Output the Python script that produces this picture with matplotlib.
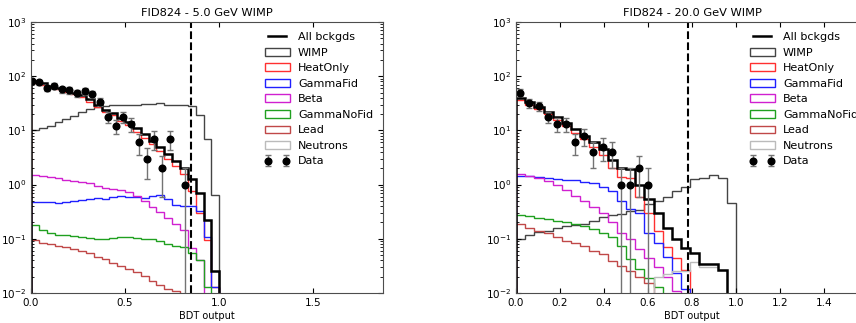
import numpy as np
import matplotlib.pyplot as plt
from matplotlib.patches import Rectangle
from matplotlib.lines import Line2D

# bin edges of the BDT output histograms
edges = np.linspace(0, 1, 25)

# ---- 5 GeV WIMP ----
bkg_5 = [80, 74, 67, 61, 55, 50, 45, 38, 30, 24, 21, 17, 14, 11, 8.5, 6.5, 5.0, 3.6, 2.7, 2.0, 1.25, 0.7, 0.22, 0.026]
wimp_5 = [10, 11, 12, 14, 16, 18.5, 21.5, 24.5, 27, 28.5, 29, 29.5, 30, 30, 30.5, 31, 31.5, 30, 29, 30, 28.5, 19, 7, 0.65]
heat_5 = [76, 70, 63, 57, 51, 46, 41, 34, 27, 22, 19, 15, 12.5, 9.5, 7.2, 5.5, 4.2, 3.0, 2.2, 1.6, 0.75, 0.3, 0.095, 0.013]
gfid_5 = [0.48, 0.48, 0.47, 0.46, 0.47, 0.50, 0.53, 0.55, 0.57, 0.55, 0.60, 0.62, 0.60, 0.58, 0.57, 0.62, 0.65, 0.55, 0.42, 0.40, 0.40, 0.32, 0.11, 0.013]
beta_5 = [1.5, 1.42, 1.38, 1.3, 1.22, 1.15, 1.1, 1.05, 0.95, 0.88, 0.82, 0.78, 0.74, 0.62, 0.5, 0.39, 0.31, 0.24, 0.19, 0.145, 0.068, 0.04, 0, 0]
gnofid_5 = [0.18, 0.145, 0.13, 0.12, 0.12, 0.115, 0.11, 0.105, 0.1, 0.1, 0.105, 0.11, 0.11, 0.105, 0.1, 0.1, 0.09, 0.08, 0.075, 0.07, 0.055, 0.04, 0.013, 0]
lead_5 = [0.095, 0.085, 0.08, 0.075, 0.07, 0.065, 0.06, 0.055, 0.047, 0.042, 0.036, 0.032, 0.028, 0.024, 0.021, 0.017, 0.014, 0.012, 0.011, 0, 0, 0, 0, 0]
neut_5 = [0] * 24
data_x_5 = [0.003, 0.043, 0.083, 0.124, 0.164, 0.204, 0.245, 0.285, 0.326, 0.366, 0.408, 0.449, 0.491, 0.532, 0.573, 0.614, 0.655, 0.696, 0.738, 0.82]
data_5 = [80, 78, 60, 66, 57, 55, 49, 53, 47, 34, 18, 12, 18, 13, 6, 3, 7, 2, 7, 1]

# ---- 20 GeV WIMP ----
bkg_20 = [40, 33, 27, 22, 17.5, 13.5, 10.5, 8.0, 6.0, 4.5, 2.9, 2.0, 1.9, 1.0, 0.55, 0.3, 0.16, 0.1, 0.069, 0.055, 0.034, 0.034, 0.027, 0]
wimp_20 = [0.1, 0.12, 0.135, 0.14, 0.155, 0.17, 0.18, 0.185, 0.21, 0.25, 0.28, 0.29, 0.32, 0.34, 0.44, 0.5, 0.6, 0.75, 0.9, 1.25, 1.3, 1.5, 1.3, 0.46]
heat_20 = [37, 30, 25, 20, 15.5, 12, 9, 6.8, 5.0, 3.5, 2.0, 1.4, 1.3, 0.6, 0.3, 0.14, 0.07, 0.045, 0.027, 0, 0, 0, 0, 0]
gfid_20 = [1.45, 1.42, 1.38, 1.33, 1.28, 1.23, 1.2, 1.12, 1.05, 0.92, 0.75, 0.5, 0.35, 0.3, 0.13, 0.085, 0.047, 0.023, 0.012, 0, 0, 0, 0, 0]
beta_20 = [1.55, 1.42, 1.3, 1.15, 1.0, 0.8, 0.62, 0.5, 0.38, 0.3, 0.2, 0.13, 0.1, 0.065, 0.045, 0.03, 0.02, 0.011, 0, 0, 0, 0, 0, 0]
gnofid_20 = [0.28, 0.26, 0.245, 0.23, 0.21, 0.2, 0.185, 0.175, 0.15, 0.13, 0.11, 0.075, 0.043, 0.028, 0.019, 0.013, 0, 0, 0, 0, 0, 0, 0, 0]
lead_20 = [0.185, 0.16, 0.14, 0.126, 0.11, 0.092, 0.083, 0.074, 0.06, 0.052, 0.039, 0.032, 0.026, 0.02, 0.015, 0, 0, 0, 0, 0, 0, 0, 0, 0]
neut_20 = [0, 0, 0, 0, 0, 0, 0, 0, 0, 0, 0, 0, 0, 0, 0, 0.02, 0.022, 0.025, 0.025, 0.038, 0.03, 0.03, 0.027, 0]
data_x_20 = [0.02, 0.061, 0.103, 0.144, 0.185, 0.227, 0.269, 0.31, 0.352, 0.394, 0.436, 0.477, 0.519, 0.56, 0.602]
data_20 = [50, 32, 28, 18, 13, 13, 6, 8, 4, 5, 4, 1, 1, 2, 1]

names = ['WIMP', 'HeatOnly', 'GammaFid', 'Beta', 'GammaNoFid', 'Lead', 'Neutrons']
colors = ['#444444', '#ff3030', '#2020ff', '#d020d0', '#20a020', '#c04848', '#bbbbbb']

panels = [
    ('FID824 - 5.0 GeV WIMP', bkg_5, [wimp_5, heat_5, gfid_5, beta_5, gnofid_5, lead_5, neut_5],
     data_x_5, data_5, 0.85, 1.87, [0.0, 0.5, 1.0, 1.5]),
    ('FID824 - 20.0 GeV WIMP', bkg_20, [wimp_20, heat_20, gfid_20, beta_20, gnofid_20, lead_20, neut_20],
     data_x_20, data_20, 0.78, 1.6, [0.0, 0.2, 0.4, 0.6, 0.8, 1.0, 1.2, 1.4]),
]

fig = plt.figure(figsize=(8.56, 3.23), dpi=100)
lefts = [31 / 856, 516 / 856]

for left, (title, bkg, comps, dx, dy, cut, xmax, xt) in zip(lefts, panels):
    ax = fig.add_axes([left, 30 / 323, 352 / 856, 271 / 323])
    ax.set_yscale('log')
    handles = []
    for vals, name, col in zip(comps, names, colors):
        ax.stairs(vals, edges, color=col, lw=1.0)
        handles.append(Rectangle((0, 0), 1, 1, facecolor='white', edgecolor=col, lw=1.0, label=name))
    ax.stairs(bkg, edges, color='black', lw=1.8)
    h_bkg = Line2D([], [], color='black', lw=1.8, label='All bckgds')
    dy = np.array(dy, dtype=float)
    err = np.sqrt(dy)
    eb = ax.errorbar(dx, dy, yerr=[np.minimum(err, dy * 0.99999), err], fmt='o', color='black',
                     ecolor='0.45', elinewidth=1.0, capsize=2, markersize=4.8, label='Data')
    ax.axvline(cut, color='black', ls='--', lw=1.5)
    ax.set_xlim(0, xmax)
    ax.set_ylim(1e-2, 1e3)
    ax.set_xticks(xt)
    ax.set_xticklabels(['%.1f' % t for t in xt], fontsize=7.5)
    ax.tick_params(axis='y', labelsize=7.5)
    ax.tick_params(which='both', direction='in', top=True, right=True)
    ax.set_title(title, fontsize=8.2, pad=4)
    ax.set_xlabel('BDT output', fontsize=7, labelpad=2)
    for s in ax.spines.values():
        s.set_color('0.3')
    ax.legend([h_bkg] + handles + [eb], ['All bckgds'] + names + ['Data'], loc='upper right',
              frameon=False, fontsize=8, numpoints=2, handlelength=2.2, handletextpad=0.75,
              labelspacing=0.5)

fig.savefig('out.png', dpi=100)
